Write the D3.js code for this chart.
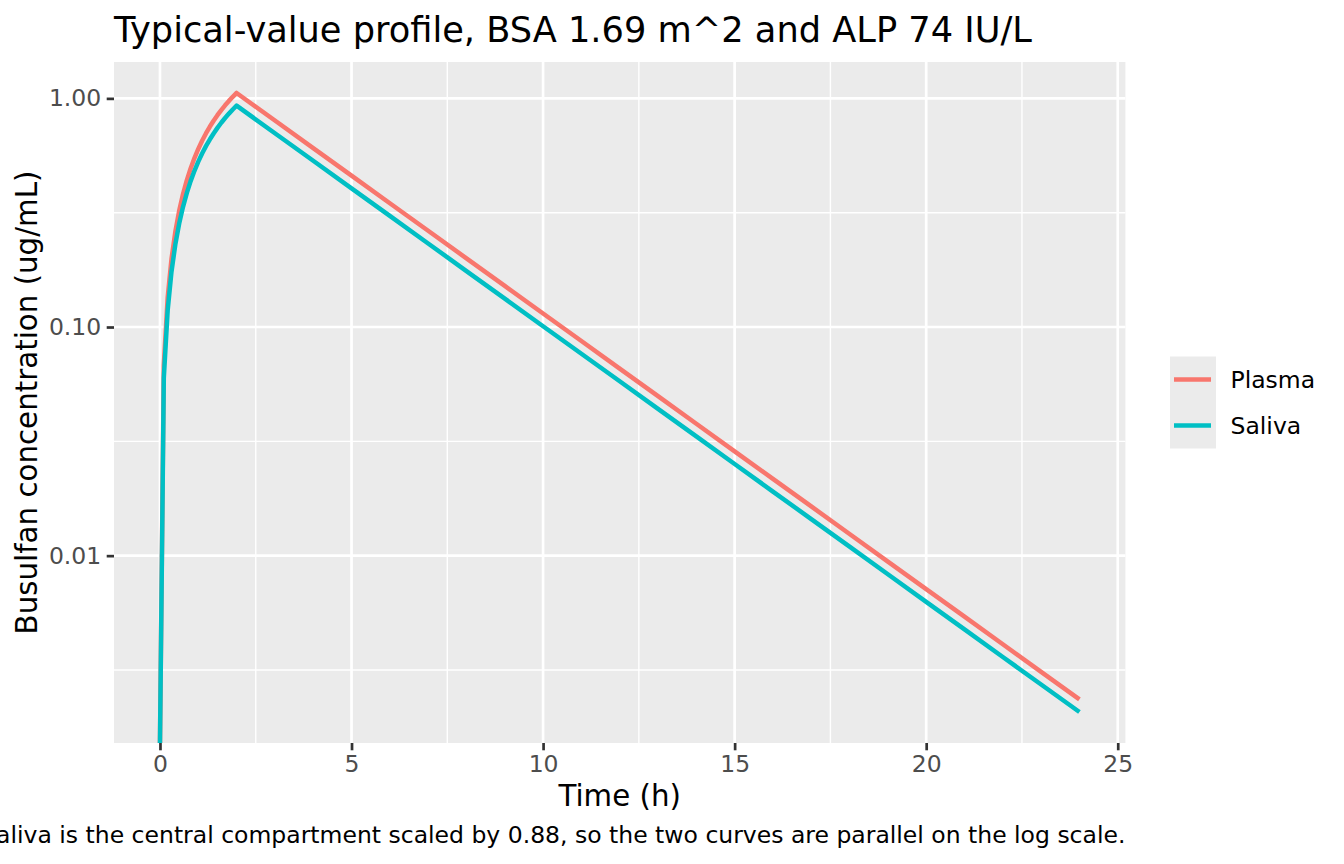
<!DOCTYPE html>
<html>
<head>
<meta charset="utf-8">
<script src="https://cdn.jsdelivr.net/npm/d3@7"></script>
<style>
  html, body { margin: 0; padding: 0; background: #fff; }
  svg { display: block; font-family: "DejaVu Sans", sans-serif; }
</style>
</head>
<body>
<svg id="chart" width="1344" height="864"></svg>
<script>
// ---- data ----
const times = [0, 0.1, 0.2, 0.3, 0.4, 0.5, 0.6, 0.7, 0.8, 0.9, 1.0,
  1.1, 1.2, 1.3, 1.4, 1.5, 1.6, 1.7, 1.8, 1.9, 2.0,
  3, 4, 5, 6, 7, 8, 9, 10, 11, 12, 13, 14, 15, 16, 17, 18, 19, 20, 21, 22, 23, 24];
const plasma = [0, 0.0679, 0.1339, 0.1981, 0.2605, 0.3213, 0.3804, 0.4378, 0.4937, 0.5481, 0.6009,
  0.6524, 0.7024, 0.7510, 0.7983, 0.8443, 0.8891, 0.9326, 0.9749, 1.0161, 1.0562,
  0.8002, 0.6062, 0.4593, 0.3479, 0.2636, 0.1997, 0.1513, 0.1146, 0.08683, 0.06578,
  0.04984, 0.03776, 0.02860, 0.02167, 0.01642, 0.01244, 0.009423, 0.007139, 0.005408,
  0.004097, 0.003104, 0.002352];
const saliva = [0, 0.0598, 0.1178, 0.1743, 0.2292, 0.2827, 0.3348, 0.3853, 0.4345, 0.4823, 0.5288,
  0.5741, 0.6181, 0.6609, 0.7025, 0.7430, 0.7824, 0.8207, 0.8579, 0.8942, 0.9295,
  0.7042, 0.5335, 0.4042, 0.3062, 0.2320, 0.1757, 0.1331, 0.1008, 0.07641, 0.05789,
  0.04386, 0.03323, 0.02517, 0.01907, 0.01445, 0.01095, 0.008292, 0.006282, 0.004759,
  0.003605, 0.002732, 0.002070];
const seriesNames = ["Plasma", "Saliva"];
const seriesColors = ["#F8766D", "#00BFC4"];
const xTicks = [0, 5, 10, 15, 20, 25];
const xTickLabels = ["0", "5", "10", "15", "20", "25"];
const xMinor = [2.5, 7.5, 12.5, 17.5, 22.5];
const yTicks = [0.01, 0.1, 1];
const yTickLabels = ["0.01", "0.10", "1.00"];
const yMinor = [Math.pow(10, -2.5), Math.pow(10, -1.5), Math.pow(10, -0.5)];
const titleText = "Typical-value profile, BSA 1.69 m^2 and ALP 74 IU/L";
const xTitle = "Time (h)";
const yTitle = "Busulfan concentration (ug/mL)";
const captionText = "Saliva is the central compartment scaled by 0.88, so the two curves are parallel on the log scale.";

// ---- layout ----
const panel = { left: 114, right: 1125.4, top: 62, bottom: 743 };
const svg = d3.select("#chart");

// x domain with 5% expansion
const xExt = d3.extent(times);
const xPad = (xExt[1] - xExt[0]) * 0.05;
const x = d3.scaleLinear()
  .domain([xExt[0] - xPad, xExt[1] + xPad])
  .range([panel.left, panel.right]);

// y log domain from finite positive values, 5% expansion in log space
const allVals = plasma.concat(saliva).filter(v => v > 0);
const lmin = Math.log10(d3.min(allVals)), lmax = Math.log10(d3.max(allVals));
const lpad = (lmax - lmin) * 0.05;
const y = d3.scaleLog()
  .domain([Math.pow(10, lmin - lpad), Math.pow(10, lmax + lpad)])
  .range([panel.bottom, panel.top])
  .clamp(true);

// panel background
svg.append("rect")
  .attr("x", panel.left).attr("y", panel.top)
  .attr("width", panel.right - panel.left).attr("height", panel.bottom - panel.top)
  .attr("fill", "#EBEBEB");

const grid = svg.append("g");
// minor grid
grid.selectAll("line.ymin").data(yMinor).join("line")
  .attr("x1", panel.left).attr("x2", panel.right)
  .attr("y1", d => y(d)).attr("y2", d => y(d))
  .attr("stroke", "#fff").attr("stroke-width", 1.4);
grid.selectAll("line.xmin").data(xMinor).join("line")
  .attr("class", "xmin")
  .attr("y1", panel.top).attr("y2", panel.bottom)
  .attr("x1", d => x(d)).attr("x2", d => x(d))
  .attr("stroke", "#fff").attr("stroke-width", 1.4);
// major grid
grid.selectAll("line.ymaj").data(yTicks).join("line")
  .attr("class", "ymaj")
  .attr("x1", panel.left).attr("x2", panel.right)
  .attr("y1", d => y(d)).attr("y2", d => y(d))
  .attr("stroke", "#fff").attr("stroke-width", 2.7);
grid.selectAll("line.xmaj").data(xTicks).join("line")
  .attr("class", "xmaj")
  .attr("y1", panel.top).attr("y2", panel.bottom)
  .attr("x1", d => x(d)).attr("x2", d => x(d))
  .attr("stroke", "#fff").attr("stroke-width", 2.7);

// clip
svg.append("clipPath").attr("id", "clipPanel")
  .append("rect")
  .attr("x", panel.left).attr("y", panel.top)
  .attr("width", panel.right - panel.left).attr("height", panel.bottom - panel.top);

const seriesData = [plasma, saliva];
const line = d3.line()
  .x(d => x(d[0]))
  .y(d => y(d[1]));

svg.append("g").attr("clip-path", "url(#clipPanel)")
  .selectAll("path").data(seriesData).join("path")
  .attr("d", vals => line(times.map((t, i) => [t, vals[i]])))
  .attr("fill", "none")
  .attr("stroke", (d, i) => seriesColors[i])
  .attr("stroke-width", 4.5)
  .attr("stroke-linejoin", "round");

// axes
const xAxis = d3.axisBottom(x).tickValues(xTicks)
  .tickFormat((d, i) => xTickLabels[i]).tickSize(7.3).tickPadding(5.5);
const gx = svg.append("g").attr("transform", `translate(0,${panel.bottom})`).call(xAxis);
gx.select(".domain").remove();
gx.selectAll(".tick line").attr("stroke", "#333333").attr("stroke-width", 2.7);
gx.selectAll(".tick text").attr("fill", "#4D4D4D")
  .style("font-size", "23.5px").style("font-family", "DejaVu Sans");

const yAxis = d3.axisLeft(y).tickValues(yTicks)
  .tickFormat((d, i) => yTickLabels[i]).tickSize(7.3).tickPadding(5.5);
const gy = svg.append("g").attr("transform", `translate(${panel.left},0)`).call(yAxis);
gy.select(".domain").remove();
gy.selectAll(".tick line").attr("stroke", "#333333").attr("stroke-width", 2.7);
gy.selectAll(".tick text").attr("fill", "#4D4D4D")
  .style("font-size", "23.5px").style("font-family", "DejaVu Sans");

// titles
svg.append("text")
  .attr("x", panel.left).attr("y", 42)
  .attr("fill", "#000").style("font-size", "35.2px")
  .text(titleText);

svg.append("text")
  .attr("x", (panel.left + panel.right) / 2).attr("y", 806)
  .attr("text-anchor", "middle")
  .attr("fill", "#000").style("font-size", "29.3px")
  .text(xTitle);

svg.append("text")
  .attr("transform", `translate(37,${(panel.top + panel.bottom) / 2}) rotate(-90)`)
  .attr("text-anchor", "middle")
  .attr("fill", "#000").style("font-size", "29.3px")
  .text(yTitle);

svg.append("text")
  .attr("x", panel.right).attr("y", 843)
  .attr("text-anchor", "end")
  .attr("fill", "#000").style("font-size", "23.5px")
  .text(captionText);

// legend
const keySize = 46;
const legTop = (panel.top + panel.bottom) / 2 - keySize * seriesNames.length / 2;
const legLeft = 1170;
const legend = svg.append("g");
legend.append("rect")
  .attr("x", legLeft).attr("y", legTop)
  .attr("width", keySize).attr("height", keySize * seriesNames.length)
  .attr("fill", "#EBEBEB");
const items = legend.selectAll("g.item").data(seriesNames).join("g")
  .attr("class", "item")
  .attr("transform", (d, i) => `translate(${legLeft},${legTop + i * keySize})`);
items.append("line")
  .attr("x1", 4).attr("x2", keySize - 5)
  .attr("y1", keySize / 2).attr("y2", keySize / 2)
  .attr("stroke", (d, i) => seriesColors[i])
  .attr("stroke-width", 4.5);
items.append("text")
  .attr("x", keySize + 14.5).attr("y", keySize / 2 + 8.5)
  .attr("fill", "#000").style("font-size", "23.5px")
  .text(d => d);
</script>
</body>
</html>
